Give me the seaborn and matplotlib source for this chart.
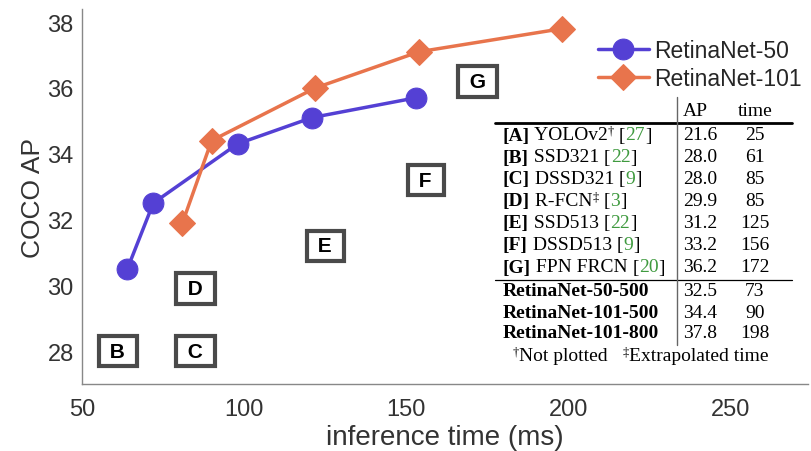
import matplotlib.pyplot as plt
import seaborn as sns

# RetinaNet curves (inference time ms, COCO AP)
t50 = [64, 72, 98, 121, 153]
ap50 = [30.5, 32.5, 34.3, 35.1, 35.7]
t101 = [81, 90, 122, 154, 198]
ap101 = [31.9, 34.4, 36.0, 37.1, 37.8]

# other detectors (table + boxed letters)
letters = ['A', 'B', 'C', 'D', 'E', 'F', 'G']
names = ['YOLOv2', 'SSD321', 'DSSD321', 'R-FCN', 'SSD513', 'DSSD513', 'FPN FRCN']
marks = ['†', '', '', '‡', '', '', '']
refs = ['27', '22', '9', '3', '22', '9', '20']
ap_tab = [21.6, 28.0, 28.0, 29.9, 31.2, 33.2, 36.2]
time_tab = [25, 61, 85, 85, 125, 156, 172]

ret_names = ['RetinaNet-50-500', 'RetinaNet-101-500', 'RetinaNet-101-800']
ret_ap = [32.5, 34.4, 37.8]
ret_time = [73, 90, 198]

blue = '#5440d4'
orange = '#e8744c'
green = '#3f9a3f'

sns.set_style("white")
plt.rcParams['font.family'] = ['Liberation Sans', 'DejaVu Sans']

W, H = 811, 452
fig = plt.figure(figsize=(W / 100, H / 100), dpi=100)
ax = fig.add_axes([82 / W, 1 - 385 / H, 726 / W, 375 / H])

sns.lineplot(x=t50, y=ap50, marker='o', markersize=15, color=blue, linewidth=2.5,
             markeredgecolor=blue, label='RetinaNet-50', ax=ax)
sns.lineplot(x=t101, y=ap101, marker='D', markersize=13, color=orange, linewidth=2.5,
             markeredgecolor=orange, label='RetinaNet-101', ax=ax)

# boxed letters for the plotted baselines
for i in range(1, len(letters)):
    ax.text(time_tab[i], ap_tab[i], ' ' + letters[i] + ' ', ha='center', va='center',
            fontsize=15, fontweight='bold', color='black',
            bbox=dict(boxstyle='square,pad=0.28', fc='white', ec='#4a4a4a', lw=3))

ax.set_xlim(50, 274)
ax.set_ylim(27, 38.4)
ax.set_xticks([50, 100, 150, 200, 250])
ax.set_yticks([28, 30, 32, 34, 36, 38])
ax.tick_params(direction='in', length=4, width=0.8, color='#777777',
               labelsize=17, labelcolor='#333333', pad=6)
ax.tick_params(axis='x', pad=10)
for s in ['top', 'right']:
    ax.spines[s].set_visible(False)
for s in ['left', 'bottom']:
    ax.spines[s].set_color('#888888')
    ax.spines[s].set_linewidth(1)
ax.set_xlabel('inference time (ms)', fontsize=20, color='#333333', labelpad=3)
ax.set_ylabel('COCO AP', fontsize=19, color='#333333', labelpad=2)

ax.legend(loc='upper right', bbox_to_anchor=(802 / W, 1 - 40 / H), bbox_transform=fig.transFigure,
          frameon=False, fontsize=16.5, handlelength=2.2, handletextpad=0.25,
          labelspacing=0.2, borderpad=0, borderaxespad=0)

# ---- table ----
serif = dict(family=['Liberation Serif', 'DejaVu Serif'], fontsize=14, color='black')


def fx(x, y):
    return (x / W, 1 - y / H)


def chain(x, y, parts):
    first, kw = parts[0]
    base = fig.text(*fx(x, y), first, ha='left', va='center', **{**serif, **kw})
    prev = base
    for s, kw in parts[1:]:
        kw = dict(kw)
        sup = kw.pop('sup', False)
        props = {**serif, **kw}
        if sup:
            props['fontsize'] = 9
            prev = ax.annotate(s, xy=(1, 0.42), xycoords=(prev, base), ha='left', va='bottom',
                               annotation_clip=False, **props)
        else:
            prev = ax.annotate(s, xy=(1, 0), xycoords=(prev, base), ha='left', va='bottom',
                               annotation_clip=False, **props)
            base = prev


rows_y = [136 + 22 * i for i in range(len(letters))]
for i in range(len(letters)):
    parts = [('[' + letters[i] + ']', dict(fontweight='bold')), (' ' + names[i], {})]
    if marks[i]:
        parts.append((marks[i], dict(sup=True)))
    parts += [(' [', {}), (refs[i], dict(color=green)), (']', {})]
    chain(503, rows_y[i], parts)
    fig.text(*fx(700, rows_y[i]), f'{ap_tab[i]:.1f}', ha='center', va='center', **serif)
    fig.text(*fx(755, rows_y[i]), f'{time_tab[i]}', ha='center', va='center', **serif)

ret_y = [292 + 21 * j for j in range(len(ret_names))]
for j in range(len(ret_names)):
    fig.text(*fx(503, ret_y[j]), ret_names[j], ha='left', va='center', fontweight='bold', **serif)
    fig.text(*fx(700, ret_y[j]), f'{ret_ap[j]:.1f}', ha='center', va='center', **serif)
    fig.text(*fx(755, ret_y[j]), f'{ret_time[j]}', ha='center', va='center', **serif)

fig.text(*fx(695, 111), 'AP', ha='center', va='center', **serif)
fig.text(*fx(755, 111), 'time', ha='center', va='center', **serif)

chain(508, 357, [(' ', {}), ('†', dict(sup=True)), ('Not plotted   ', {}),
                 ('‡', dict(sup=True)), ('Extrapolated time', {})])

fig.add_artist(plt.Line2D([495 / W, 792 / W], [1 - 124 / H] * 2, color='black', lw=2))
fig.add_artist(plt.Line2D([495 / W, 792 / W], [1 - 281 / H] * 2, color='black', lw=0.9))
fig.add_artist(plt.Line2D([677 / W] * 2, [1 - 98 / H, 1 - 346 / H], color='#666666', lw=1))

fig.savefig('out.png', dpi=100)
